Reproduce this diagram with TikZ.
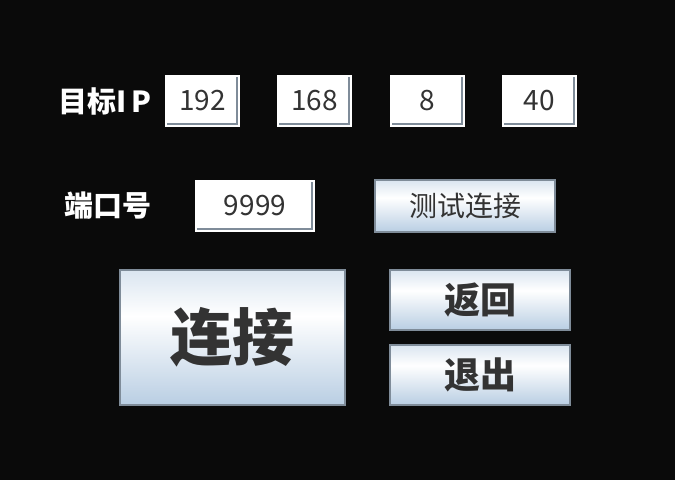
\documentclass[tikz,border=0pt]{standalone}
\usepackage{fontspec}
\setmainfont{Noto Sans CJK SC}
\usetikzlibrary{positioning}
\definecolor{bgdark}{HTML}{0A0A0A}
\definecolor{edgegray}{HTML}{7F8C99}
\definecolor{btntop}{HTML}{DAE5F0}
\definecolor{btnbot}{HTML}{B9CEE3}
\definecolor{inktext}{HTML}{333333}
\pgfdeclareverticalshading{btnshade}{100bp}{color(0bp)=(btnbot); color(25bp)=(btnbot); color(58bp)=(white); color(75bp)=(btntop); color(100bp)=(btntop)}
\tikzset{
    %Define style for input fields
    field/.style={
           rectangle,
           fill=white,
           minimum width=75pt,
           minimum height=52pt,
           inner sep=0pt,
           outer sep=0pt,
           text=inktext,
           font=\fontsize{28pt}{28pt}\selectfont,
           path picture={\draw[edgegray, line width=2pt]
              ([xshift=2pt,yshift=3pt]path picture bounding box.south west) -|
              ([xshift=-3pt,yshift=-2pt]path picture bounding box.north east);}},
    %Define style for buttons
    button/.style={
           rectangle,
           draw=edgegray,
           line width=1.5pt,
           shading=btnshade,
           inner sep=0pt,
           outer sep=0pt,
           text=inktext,
           font=\fontsize{28pt}{28pt}\selectfont},
    bigbutton/.style={
           button,
           font=\fontsize{62pt}{62pt}\selectfont\bfseries},
    sidebutton/.style={
           button,
           minimum width=180pt,
           minimum height=60pt,
           font=\fontsize{36pt}{36pt}\selectfont\bfseries},
    % Define label style
    caption/.style={
           inner sep=0pt,
           outer sep=0pt,
           text=white,
           font=\fontsize{29pt}{29pt}\selectfont\bfseries}
}
\begin{document}
\begin{tikzpicture}[x=1pt,y=-1pt]
\fill[bgdark] (0,0) rectangle (675,480);
\useasboundingbox (0,0) rectangle (675,480);
 %address row
\node[field, anchor=north west](ip1) at (165,75){192};
\node[field, right=37pt of ip1](ip2){168};
\node[field, right=38pt of ip2](ip3){8};
\node[field, right=37pt of ip3](ip4){40};
\node[caption, left=14pt of ip1](iplabel){目标I\,P};
 %port row
\node[field, minimum width=120pt, anchor=north west](port) at (195,180){9999};
\node[caption, left=44pt of port](portlabel){端口号};
\node[button, minimum width=180pt, minimum height=52pt, right=60pt of port](test){测试连接};
 %buttons
\node[bigbutton, minimum width=225pt, minimum height=135pt, anchor=north west](connect) at (120,270){连接};
\node[sidebutton, anchor=north west](back) at (390,270){返回};
\node[sidebutton, below=15pt of back](quit){退出};
\end{tikzpicture}
\end{document}
